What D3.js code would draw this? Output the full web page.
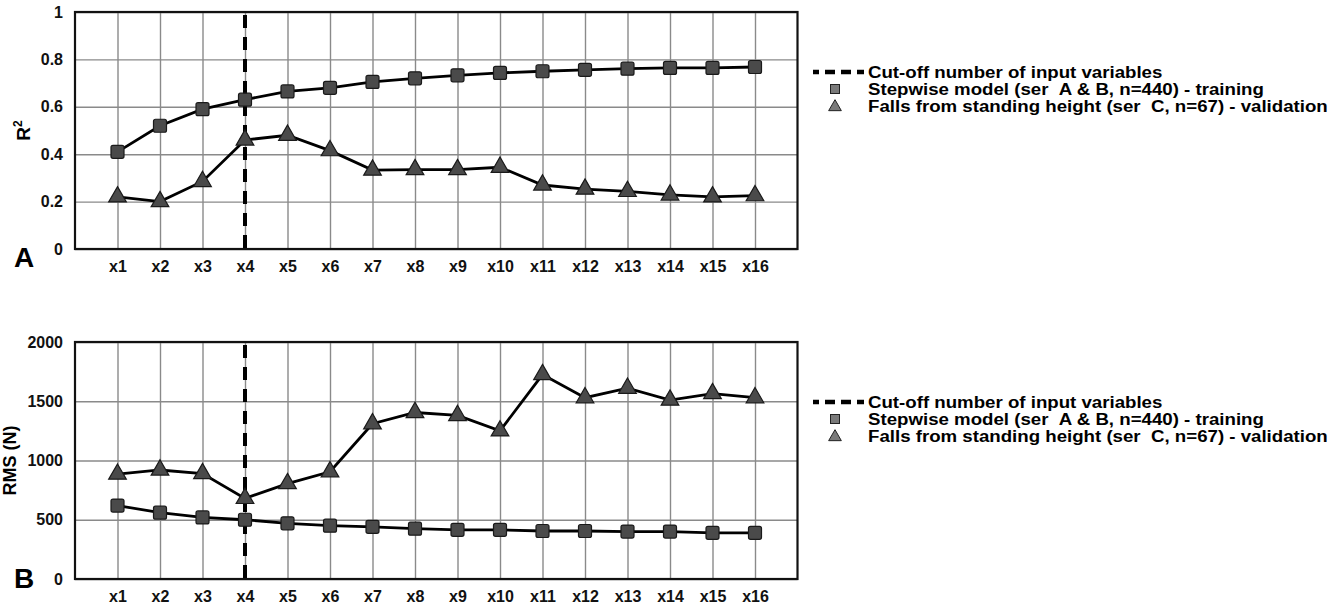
<!DOCTYPE html>
<html><head><meta charset="utf-8">
<script src="https://cdn.jsdelivr.net/npm/d3@7"></script>
<style>body{margin:0;background:#fff}svg{display:block}text{font-family:"Liberation Sans",Arial,sans-serif;font-weight:bold}</style>
</head><body><svg id="c" width="1332" height="608"></svg>
<script>
const categories = ["x1","x2","x3","x4","x5","x6","x7","x8","x9","x10","x11","x12","x13","x14","x15","x16"];
const r2Training = [0.41,0.52,0.59,0.63,0.665,0.68,0.705,0.72,0.733,0.743,0.75,0.756,0.761,0.764,0.764,0.768];
const r2Validation = [0.22,0.20,0.285,0.46,0.48,0.415,0.333,0.335,0.335,0.345,0.27,0.253,0.243,0.228,0.22,0.225];
const rmsTraining = [620,560,520,500,470,450,440,425,415,415,405,405,400,400,390,390];
const rmsValidation = [885,920,890,680,805,905,1310,1405,1380,1250,1725,1530,1610,1510,1565,1530];
const r2Ticks = [0,0.2,0.4,0.6,0.8,1];
const r2TickLabels = ["0","0.2","0.4","0.6","0.8","1"];
const rmsTicks = [0,500,1000,1500,2000];
const rmsTickLabels = ["0","500","1000","1500","2000"];
const cutoff = "x4";
const legendLabels = ["Cut-off number of input variables","Stepwise model (ser\u00a0\u00a0A & B, n=440) - training","Falls from standing height (ser\u00a0\u00a0C, n=67) - validation"];

const svg = d3.select("#c");
const L = 75, R = 797.5;
const x = d3.scalePoint().domain(["_0", ...categories, "_17"]).range([L, R]);
const font = s=>s.attr("fill","#111").style("font-family","Liberation Sans, Arial").style("font-weight","bold");

function panel(opts){
  const {top, bottom, domain, ticks, tickLabels, train, valid, ylabel, yfs, letter, letterY, legendY, labelX} = opts;
  const y = d3.scaleLinear().domain(domain).range([bottom, top]);
  const g = svg.append("g");
  g.append("g").attr("transform",`translate(${L},0)`)
    .call(d3.axisLeft(y).tickValues(ticks).tickSize(-(R-L)).tickFormat(""))
    .call(s=>s.select(".domain").remove())
    .call(s=>s.selectAll("line").attr("stroke","#8a8a8a").attr("stroke-width",1.4));
  g.append("g").attr("transform",`translate(0,${bottom})`)
    .call(d3.axisBottom(x).tickValues(categories).tickSize(-(bottom-top)).tickFormat(""))
    .call(s=>s.select(".domain").remove())
    .call(s=>s.selectAll("line").attr("stroke","#8a8a8a").attr("stroke-width",1.4));
  g.append("g").attr("transform",`translate(0,${bottom})`)
    .call(d3.axisBottom(x).tickValues(categories).tickSize(0).tickPadding(12))
    .call(s=>s.select(".domain").remove())
    .call(s=>font(s.selectAll("text").attr("font-size",16)));
  g.append("g").attr("transform",`translate(${L},0)`)
    .call(d3.axisLeft(y).tickValues(ticks).tickSize(0).tickPadding(12).tickFormat((d,i)=>tickLabels[i]))
    .call(s=>s.select(".domain").remove())
    .call(s=>font(s.selectAll("text").attr("font-size",16)));
  g.append("line").attr("x1",x(cutoff)).attr("x2",x(cutoff)).attr("y1",top).attr("y2",bottom)
    .attr("stroke","#000").attr("stroke-width",4).attr("stroke-dasharray","13,9").attr("stroke-dashoffset",-3);
  g.append("rect").attr("x",L).attr("y",top).attr("width",R-L).attr("height",bottom-top)
    .attr("fill","none").attr("stroke","#111").attr("stroke-width",2.2);
  const line = d3.line().x((d,i)=>x(categories[i])).y(d=>y(d));
  [train, valid].forEach(s=>{
    g.append("path").datum(s).attr("d",line).attr("fill","none").attr("stroke","#000").attr("stroke-width",2.8);
  });
  g.selectAll(".sq").data(train).join("rect")
    .attr("x",(d,i)=>x(categories[i])-6.5).attr("y",d=>y(d)-6.5).attr("width",13).attr("height",13).attr("rx",2)
    .attr("fill","#4a4a4a").attr("stroke","#1a1a1a").attr("stroke-width",1.2);
  const tri = d3.symbol().type(d3.symbolTriangle).size(135);
  g.selectAll(".tr").data(valid).join("path")
    .attr("d",tri).attr("transform",(d,i)=>`translate(${x(categories[i])},${y(d)})`)
    .attr("fill","#4a4a4a").attr("stroke","#1a1a1a").attr("stroke-width",1.2);
  g.append("text").attr("transform",`translate(${labelX},${(top+bottom)/2}) rotate(-90)`)
    .attr("text-anchor","middle").attr("font-size",yfs).attr("fill","#000").html(ylabel);
  g.append("text").attr("x",14).attr("y",letterY).attr("font-size",28).attr("fill","#000").text(letter);
  const lg = g.append("g");
  lg.append("line").attr("x1",813).attr("x2",864).attr("y1",legendY).attr("y2",legendY)
    .attr("stroke","#000").attr("stroke-width",4.5).attr("stroke-dasharray","10,6").attr("stroke-dashoffset",4);
  lg.append("rect").attr("x",830.5).attr("y",legendY+17-4.5).attr("width",9).attr("height",9)
    .attr("fill","#7a7a7a").attr("stroke","#222").attr("stroke-width",1);
  lg.append("path").attr("d",d3.symbol().type(d3.symbolTriangle).size(70)).attr("transform",`translate(835,${legendY+35})`)
    .attr("fill","#7a7a7a").attr("stroke","#222").attr("stroke-width",1);
  const tg = lg.append("g");
  const texts = legendLabels.map((t,i)=>
    tg.append("text").attr("x",0).attr("y",legendY+i*17).attr("dy","0.35em").attr("font-size",17).attr("fill","#000").text(t));
  const w = texts[2].node().getComputedTextLength();
  tg.attr("transform",`translate(868,0) scale(${460/w},1)`);
}

panel({top:12, bottom:249, domain:[0,1], ticks:r2Ticks, tickLabels:r2TickLabels, train:r2Training, valid:r2Validation,
  ylabel:'R<tspan dy="-8" font-size="12">2</tspan>', yfs:19, letter:"A", letterY:267, legendY:72, labelX:30});
panel({top:342, bottom:579, domain:[0,2000], ticks:rmsTicks, tickLabels:rmsTickLabels, train:rmsTraining, valid:rmsValidation,
  ylabel:"RMS (N)", yfs:18, letter:"B", letterY:588, legendY:402, labelX:16});
</script></body></html>
